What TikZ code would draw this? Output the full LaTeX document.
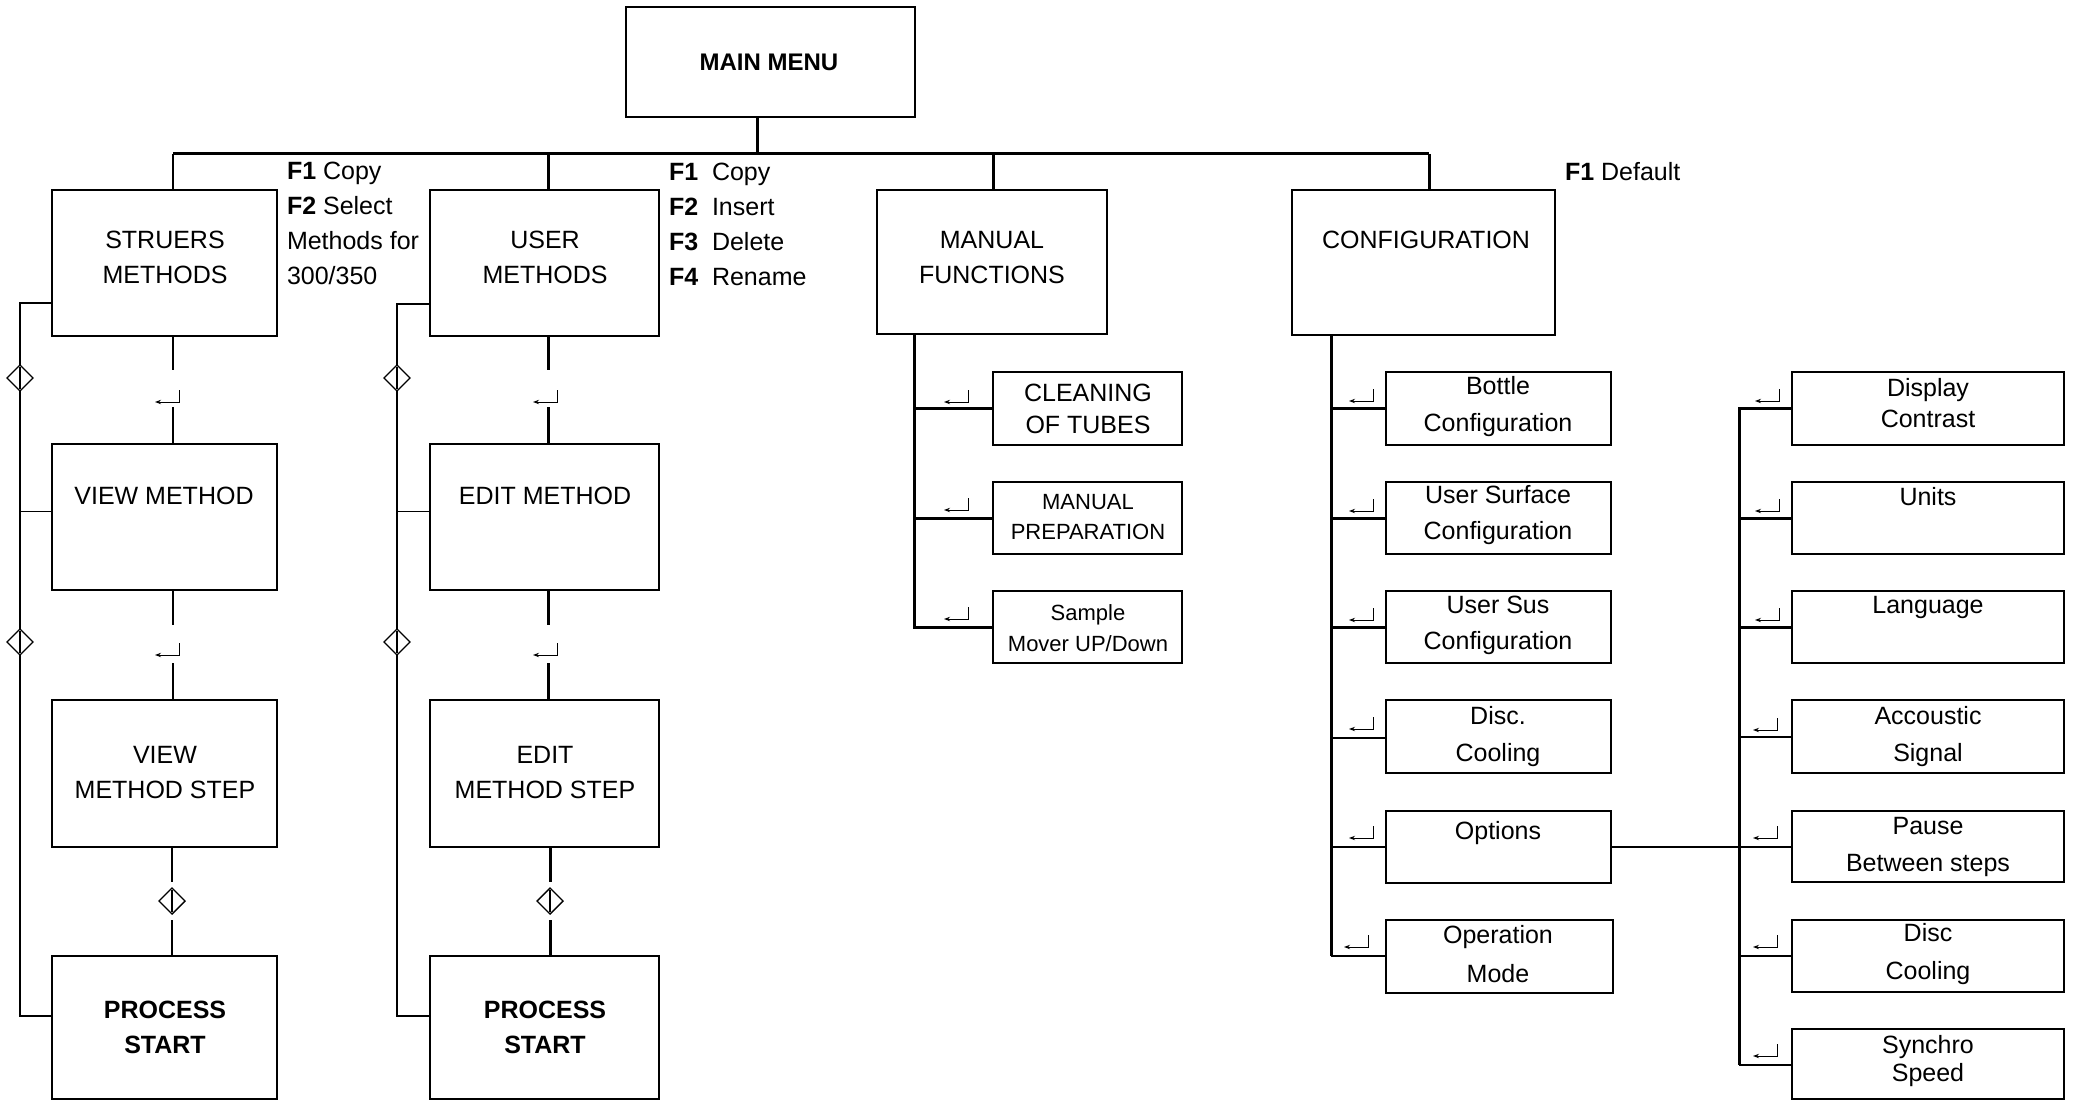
\documentclass[tikz,border=0pt]{standalone}
\usepackage{fontspec}
\setmainfont{Liberation Sans}
\usetikzlibrary{shapes.geometric,arrows.meta}
\newcommand\fsz[2]{\fontsize{#1}{#2}\selectfont}
\newcommand\bx[6][]{%
  \pgfmathsetmacro\bxw{(#5-#3)*0.5}%
  \pgfmathsetmacro\bxh{(#6-#4)*0.5}%
  \pgfmathsetmacro\bxx{(#3+#5)/2}%
  \pgfmathsetmacro\bxy{(#4+#6)/2}%
  \node[box,minimum width=\bxw pt,minimum height=\bxh pt,#1] (#2) at (\bxx,\bxy) {};}
\newcommand\entr[2]{\draw[entr] (#1,#2-12) -- (#1,#2) -- (#1-24,#2);}
\tikzset{
  box/.style={draw,rectangle,line width=1.4pt,inner sep=0pt,outer sep=0pt},
  txt/.style={inner sep=0pt,outer sep=0pt,align=center,font=\fsz{12.5}{17.5}},
  thk/.style={line width=1.5pt},
  thn/.style={line width=0.9pt},
  entr/.style={line width=0.5pt,-{Stealth[length=3pt,width=2.2pt]}},
  dia/.style={draw,diamond,shape aspect=1,minimum width=13pt,minimum height=13pt,
    inner sep=0pt,outer sep=0pt,line width=0.7pt,fill=white,
    path picture={\draw[line width=0.6pt] ([yshift=-1pt]path picture bounding box.north) -- ([yshift=1pt]path picture bounding box.south);}}
}
\begin{document}
\begin{tikzpicture}[x=0.5pt,y=-0.5pt]
\fill[white] (0,0) rectangle (2078,1102);
\useasboundingbox (0,0) rectangle (2078,1102);

% boxes
\bx{main}{626}{7}{915}{117}
\bx{struers}{52}{190}{277}{336}
\bx{view}{52}{444}{277}{590}
\bx{viewstep}{52}{700}{277}{847}
\bx{procA}{52}{956}{277}{1099}
\bx{user}{430}{190}{659}{336}
\bx{edit}{430}{444}{659}{590}
\bx{editstep}{430}{700}{659}{847}
\bx{procB}{430}{956}{659}{1099}
\bx{manual}{877}{190}{1107}{334}
\bx{clean}{993}{372}{1182}{445}
\bx{prep}{993}{482}{1182}{554}
\bx{sample}{993}{591}{1182}{663}
\bx{config}{1292}{190}{1555}{335}
\bx{bottle}{1386}{372}{1611}{445}
\bx{usurf}{1386}{482}{1611}{554}
\bx{usus}{1386}{591}{1611}{663}
\bx{disc}{1386}{700}{1611}{773}
\bx{options}{1386}{811}{1611}{883}
\bx[line width=1pt]{opmode}{1386}{920}{1613}{993}
\bx{display}{1792}{372}{2064}{445}
\bx{units}{1792}{482}{2064}{554}
\bx{lang}{1792}{591}{2064}{663}
\bx{acc}{1792}{700}{2064}{773}
\bx{pause}{1792}{811}{2064}{882}
\bx{dcool}{1792}{920}{2064}{992}
\bx{synchro}{1792}{1029}{2064}{1099}

% texts
\node[txt,font=\fsz{12}{17}\bfseries] (tmain) at (769,62) {MAIN MENU};
\node[txt] (tstruers) at (165,257.5) {STRUERS\\METHODS};
\node[txt] (tview) at (164,496) {VIEW METHOD};
\node[txt] (tviewstep) at (165,772.5) {VIEW\\METHOD STEP};
\node[txt,font=\fsz{12.5}{17.5}\bfseries] (tprocA) at (165,1027.5) {PROCESS\\START};
\node[txt] (tuser) at (545,257.5) {USER\\METHODS};
\node[txt] (tedit) at (545,496) {EDIT METHOD};
\node[txt] (teditstep) at (545,772.5) {EDIT\\METHOD STEP};
\node[txt,font=\fsz{12.5}{17.5}\bfseries] (tprocB) at (545,1027.5) {PROCESS\\START};
\node[txt] (tmanual) at (992,257.5) {MANUAL\\FUNCTIONS};
\node[txt,font=\fsz{12.5}{16}] (tclean) at (1088,409) {CLEANING\\OF TUBES};
\node[txt,font=\fsz{11}{15}] (tprep) at (1088,517) {MANUAL\\PREPARATION};
\node[txt,font=\fsz{11}{15.5}] (tsample) at (1088,628.5) {Sample\\Mover UP/Down};
\node[txt] (tconfig) at (1426,240) {CONFIGURATION};
\node[txt,font=\fsz{12.5}{18.5}] (tbottle) at (1498,406.5) {Bottle\\Configuration};
\node[txt,font=\fsz{12.5}{18}] (tusurf) at (1498,515) {User Surface\\Configuration};
\node[txt,font=\fsz{12.5}{18}] (tusus) at (1498,625) {User Sus\\Configuration};
\node[txt,font=\fsz{12.5}{18.5}] (tdisc) at (1498,736.5) {Disc.\\Cooling};
\node[txt] (toptions) at (1498,833) {Options};
\node[txt,font=\fsz{12.5}{19.5}] (topmode) at (1498,954.5) {Operation\\Mode};
\node[txt,font=\fsz{12.5}{15.5}] (tdisplay) at (1928,403.5) {Display\\Contrast};
\node[txt] (tunits) at (1928,497) {Units};
\node[txt] (tlang) at (1928,607) {Language};
\node[txt,font=\fsz{12.5}{18.5}] (tacc) at (1928,736.5) {Accoustic\\Signal};
\node[txt,font=\fsz{12.5}{18.5}] (tpause) at (1928,846.5) {Pause\\Between steps};
\node[txt,font=\fsz{12.5}{19}] (tdcool) at (1928,954) {Disc\\Cooling};
\node[txt,font=\fsz{12.5}{14}] (tsynchro) at (1928,1061) {Synchro\\Speed};

% function key labels
\node[txt,align=left,anchor=west] (fA) at (287,223.5)
  {{\bfseries F1} Copy\\{\bfseries F2} Select\\Methods for\\300/350};
\node[txt,align=left,anchor=west] (fB) at (669,224.5)
  {\makebox[21.5pt][l]{\bfseries F1}Copy\\\makebox[21.5pt][l]{\bfseries F2}Insert\\\makebox[21.5pt][l]{\bfseries F3}Delete\\\makebox[21.5pt][l]{\bfseries F4}Rename};
\node[txt,align=left,anchor=west] (fD) at (1565,172) {{\bfseries F1} Default};

% bus from main menu
\coordinate (bA) at (173,154);
\coordinate (bB) at (548,154);
\coordinate (bC) at (993,154);
\coordinate (bD) at (1429,154);
\coordinate (bM) at (757,154);
\draw[thk] (bM |- main.south) -- (bM);
\draw[thk] (bA) -- (bD);
\draw[thn] (bA) -- (bA |- struers.north);
\draw[thk] (bB) -- (bB |- user.north);
\draw[thk] (bC) -- (bC |- manual.north);
\draw[thk] (bD) -- (bD |- config.north);

% column A
\node[dia] (dA1) at (20,378) {};
\node[dia] (dA2) at (20,642) {};
\node[dia] (dA3) at (172,901) {};
\coordinate (rA1) at (20,303);
\coordinate (rA2) at (20,511.5);
\coordinate (rA3) at (20,1016);
\draw[thn] (rA1 -| struers.west) -- (rA1) -- (dA1.north);
\draw[thn] (dA1.south) -- (dA2.north);
\draw[thn] (dA2.south) -- (rA3) -- (rA3 -| procA.west);
\draw[thn] (rA2) -- (rA2 -| view.west);
\coordinate (cA1) at (173,370);
\coordinate (cA2) at (173,407);
\coordinate (cA3) at (173,625);
\coordinate (cA4) at (173,663);
\draw[thn] (cA1 |- struers.south) -- (cA1);
\draw[thn] (cA2) -- (cA2 |- view.north);
\draw[thn] (cA3 |- view.south) -- (cA3);
\draw[thn] (cA4) -- (cA4 |- viewstep.north);
\draw[thn] (dA3.north |- viewstep.south) -- ([yshift=3pt]dA3.north);
\draw[thn] ([yshift=-3pt]dA3.south) -- (dA3.south |- procA.north);
\entr{179}{402}
\entr{179}{655}

% column B
\node[dia] (dB1) at (397,378) {};
\node[dia] (dB2) at (397,642) {};
\node[dia] (dB3) at (550,901) {};
\coordinate (rB1) at (397,304);
\coordinate (rB2) at (397,511.5);
\coordinate (rB3) at (397,1016);
\draw[thn] (rB1 -| user.west) -- (rB1) -- (dB1.north);
\draw[thn] (dB1.south) -- (dB2.north);
\draw[thn] (dB2.south) -- (rB3) -- (rB3 -| procB.west);
\draw[thn] (rB2) -- (rB2 -| edit.west);
\coordinate (cB1) at (548,370);
\coordinate (cB2) at (548,407);
\coordinate (cB3) at (548,625);
\coordinate (cB4) at (548,663);
\draw[thk] (cB1 |- user.south) -- (cB1);
\draw[thk] (cB2) -- (cB2 |- edit.north);
\draw[thk] (cB3 |- edit.south) -- (cB3);
\draw[thk] (cB4) -- (cB4 |- editstep.north);
\draw[thk] (dB3.north |- editstep.south) -- ([yshift=3pt]dB3.north);
\draw[thk] ([yshift=-3pt]dB3.south) -- (dB3.south |- procB.north);
\entr{557}{402}
\entr{557}{655}

% manual functions
\coordinate (mR1) at (914,408);
\coordinate (mR2) at (914,518);
\coordinate (mR3) at (914,627);
\draw[thk] (mR1 |- manual.south) -- (mR3) -- (mR3 -| sample.west);
\draw[thk] (mR1) -- (mR1 -| clean.west);
\draw[thk] (mR2) -- (mR2 -| prep.west);
\entr{968}{402}
\entr{968}{510}
\entr{968}{619}

% configuration
\coordinate (cR1) at (1331,408);
\coordinate (cR2) at (1331,518);
\coordinate (cR3) at (1331,627);
\coordinate (cR4) at (1331,738);
\coordinate (cR5) at (1331,847);
\coordinate (cR6) at (1331,956);
\draw[thk] (cR1 |- config.south) -- (cR6);
\draw[thk] (cR1) -- (cR1 -| bottle.west);
\draw[thk] (cR2) -- (cR2 -| usurf.west);
\draw[thk] (cR3) -- (cR3 -| usus.west);
\draw[thn] (cR4) -- (cR4 -| disc.west);
\draw[thn] (cR5) -- (cR5 -| options.west);
\draw[thn] (cR6) -- (cR6 -| opmode.west);
\entr{1373}{401}
\entr{1373}{511}
\entr{1373}{620}
\entr{1373}{729}
\entr{1373}{838}
\entr{1368}{947}

% options sub menu
\coordinate (rR1) at (1739,408);
\coordinate (rR2) at (1739,518);
\coordinate (rR3) at (1739,627);
\coordinate (rR4) at (1739,737);
\coordinate (rR5) at (1739,847);
\coordinate (rR6) at (1739,956);
\coordinate (rR7) at (1739,1065);
\draw[thk] (rR1 -| display.west) -- (rR1) -- (rR7);
\draw[thk] (rR2) -- (rR2 -| units.west);
\draw[thk] (rR3) -- (rR3 -| lang.west);
\draw[thn] (rR4) -- (rR4 -| acc.west);
\draw[thn] (rR5) -- (rR5 -| pause.west);
\draw[thn] (rR6) -- (rR6 -| dcool.west);
\draw[thn] (rR7) -- (rR7 -| synchro.west);
\draw[thn] (options.east) -- (options.east -| rR5);
\entr{1779}{401}
\entr{1779}{511}
\entr{1779}{620}
\entr{1777}{730}
\entr{1777}{838}
\entr{1777}{947}
\entr{1777}{1056}
\end{tikzpicture}
\end{document}
